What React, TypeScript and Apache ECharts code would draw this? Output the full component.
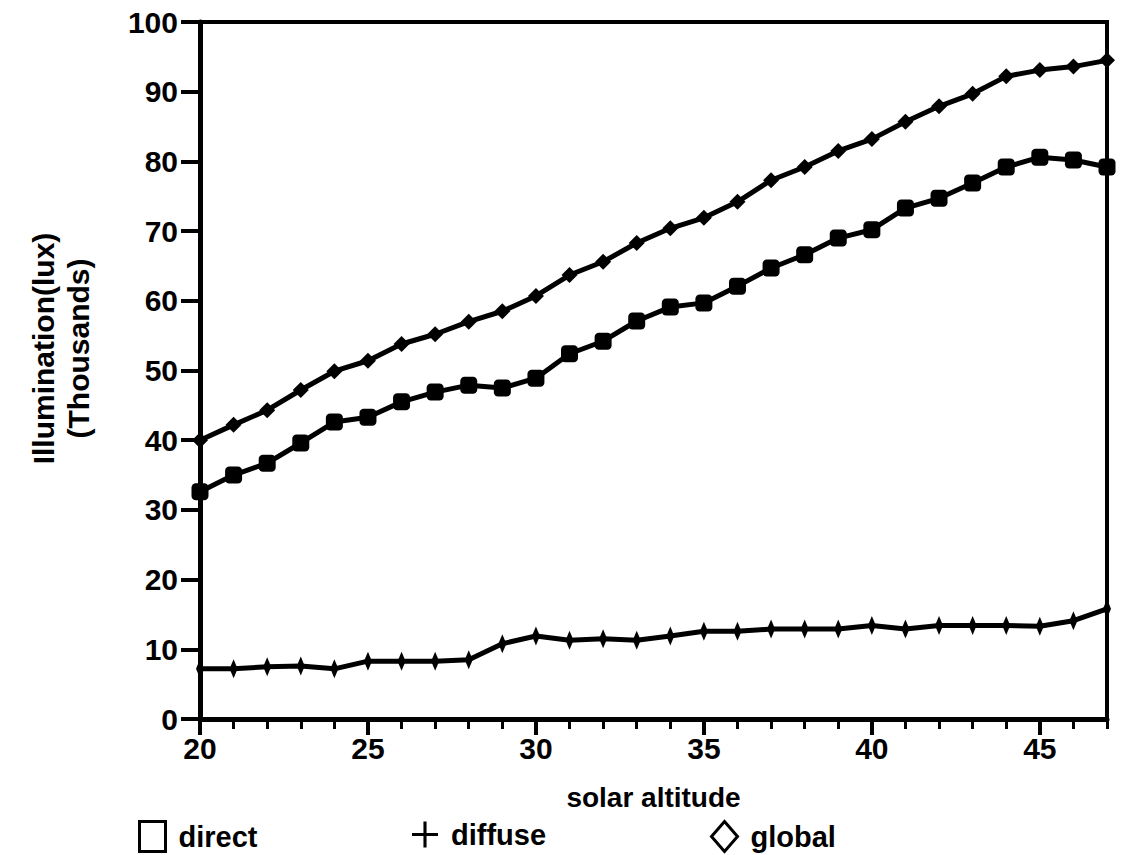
import React, { useEffect, useRef } from "react";
import * as echarts from "echarts";

const altitudes = [20, 21, 22, 23, 24, 25, 26, 27, 28, 29, 30, 31, 32, 33, 34, 35, 36, 37, 38, 39, 40, 41, 42, 43, 44, 45, 46, 47];
const direct = [32.6, 35.0, 36.7, 39.6, 42.6, 43.3, 45.5, 46.9, 47.9, 47.5, 48.9, 52.4, 54.2, 57.1, 59.1, 59.7, 62.1, 64.7, 66.6, 69.0, 70.2, 73.3, 74.7, 76.9, 79.2, 80.6, 80.2, 79.2];
const diffuse = [7.2, 7.2, 7.5, 7.6, 7.2, 8.3, 8.3, 8.3, 8.5, 10.8, 11.9, 11.3, 11.5, 11.3, 11.9, 12.6, 12.6, 12.9, 12.9, 12.9, 13.4, 12.9, 13.4, 13.4, 13.4, 13.3, 14.1, 15.8];
const global = [40.0, 42.2, 44.3, 47.2, 49.9, 51.4, 53.8, 55.2, 57.0, 58.5, 60.7, 63.7, 65.6, 68.3, 70.4, 71.9, 74.2, 77.3, 79.2, 81.5, 83.2, 85.7, 87.9, 89.7, 92.2, 93.1, 93.6, 94.5];

const FONT = "Liberation Sans";
const PLUS = "path://M11,0h3v11h11v3h-11v11h-3v-11h-11v-3h11z";

export default function App() {
  const ref = useRef<HTMLDivElement>(null);
  useEffect(() => {
    if (!ref.current) return;
    const chart = echarts.init(ref.current, null, { renderer: "svg" });
    const pairs = (ys: number[]) => altitudes.map((x, i) => [x, ys[i]]);
    const textStyle = { fontFamily: FONT, fontWeight: "bold", fontSize: 28, color: "#000" };
    const legendBase = (left: number) => ({
      left,
      top: 815,
      itemWidth: 26,
      itemHeight: 30,
      itemGap: 10,
      selectedMode: false,
      textStyle: { ...textStyle, fontSize: 29, padding: [0, 0, 0, 8] },
    });
    chart.setOption({
      animation: false,
      backgroundColor: "#fff",
      grid: {
        left: 200,
        right: 23,
        top: 22,
        bottom: 136,
        show: true,
        borderColor: "#000",
        borderWidth: 4,
        backgroundColor: "transparent",
      },
      legend: [
        {
          ...legendBase(133),
          data: [{ name: "direct", icon: "rect", itemStyle: { color: "#fff", borderColor: "#000", borderWidth: 3 } }],
        },
        {
          ...legendBase(407),
          data: [{ name: "diffuse", icon: PLUS, itemStyle: { color: "#000", borderWidth: 0 } }],
        },
        {
          ...legendBase(705),
          data: [{ name: "global", icon: "diamond", itemStyle: { color: "#fff", borderColor: "#000", borderWidth: 3 } }],
        },
      ],
      xAxis: [
        {
          type: "value",
          min: 20,
          max: 47,
          interval: 5,
          name: "solar altitude",
          nameLocation: "middle",
          nameGap: 64,
          nameTextStyle: textStyle,
          axisLine: { show: true, onZero: false, lineStyle: { color: "#000", width: 5 } },
          axisTick: { show: true, length: 16, lineStyle: { color: "#000", width: 4 } },
          axisLabel: { ...textStyle, fontSize: 30, margin: 14, showMaxLabel: false },
          splitLine: { show: false },
        },
        {
          type: "value",
          min: 20,
          max: 47,
          interval: 1,
          position: "bottom",
          axisLine: { show: false },
          axisTick: { show: true, length: 10, lineStyle: { color: "#000", width: 3 } },
          axisLabel: { show: false },
          splitLine: { show: false },
        },
      ],
      yAxis: {
        type: "value",
        min: 0,
        max: 100,
        interval: 10,
        name: "Illumination(lux)\n(Thousands)",
        nameLocation: "middle",
        nameGap: 104,
        nameRotate: 90,
        nameTextStyle: { ...textStyle, fontSize: 30, lineHeight: 35, padding: [0, 0, 0, 44] },
        axisLine: { show: true, lineStyle: { color: "#000", width: 5 } },
        axisTick: { show: true, length: 19, lineStyle: { color: "#000", width: 4 } },
        axisLabel: { ...textStyle, fontSize: 30, margin: 22 },
        splitLine: { show: false },
      },
      series: [
        {
          name: "direct",
          type: "line",
          data: pairs(direct),
          symbol: "roundRect",
          symbolSize: 17,
          lineStyle: { color: "#000", width: 5 },
          itemStyle: { color: "#000" },
        },
        {
          name: "diffuse",
          type: "line",
          data: pairs(diffuse),
          symbol: "diamond",
          symbolSize: [8, 19],
          lineStyle: { color: "#000", width: 5 },
          itemStyle: { color: "#000" },
        },
        {
          name: "global",
          type: "line",
          data: pairs(global),
          symbol: "diamond",
          symbolSize: 16,
          lineStyle: { color: "#000", width: 5 },
          itemStyle: { color: "#000" },
        },
      ],
    });
    return () => chart.dispose();
  }, []);
  return <div ref={ref} style={{ position: "absolute", left: 0, top: 0, width: 1130, height: 855 }} />;
}
